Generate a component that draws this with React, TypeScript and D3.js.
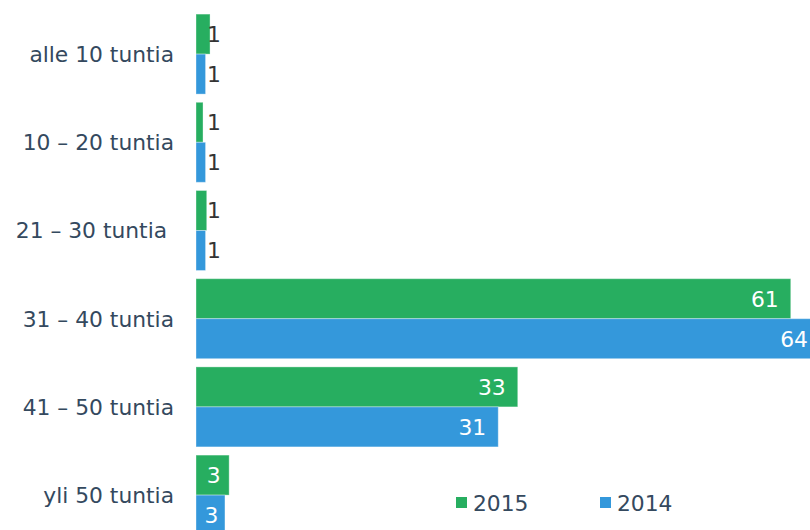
import React from "react";
import * as d3 from "d3";

const categories = [
  "alle 10 tuntia",
  "10 – 20 tuntia",
  "21 – 30 tuntia ",
  "31 – 40 tuntia",
  "41 – 50 tuntia",
  "yli 50 tuntia",
];
const seriesNames = ["2015", "2014"];
const values2015 = [1.44, 0.72, 1.1, 61, 33, 3.4];
const values2014 = [0.98, 0.98, 0.98, 64, 31, 2.97];
const colors = ["#27ae60", "#3498db"];

const W = 810;
const H = 530;
const FONT = "'DejaVu Sans', Verdana, sans-serif";
const FS = 21.8;

export default function App() {
  const series = [values2015, values2014];
  const x = d3.scaleLinear().domain([0, 64]).range([196, 820]);
  const y = d3
    .scaleBand<string>()
    .domain(categories)
    .range([10, 539.2])
    .paddingInner(0.093)
    .paddingOuter(0.0465);
  const sub = d3
    .scaleBand<string>()
    .domain(seriesNames)
    .range([0, y.bandwidth()]);
  const fmt = (v: number) => String(Math.round(v));

  return (
    <svg
      width={W}
      height={H}
      style={{ position: "absolute", left: 0, top: 0, display: "block" }}
      fontFamily={FONT}
    >
      <rect width={W} height={H} fill="#fff" />
      {categories.map((c, i) => (
        <g key={c}>
          {series.map((vals, s) => {
            const v = vals[i];
            const y0 = (y(c) as number) + (sub(seriesNames[s]) as number);
            const bh = sub.bandwidth();
            const x0 = x(0);
            const x1 = x(v);
            const bw = x1 - x0;
            const label = fmt(v);
            const tw = label.length * 0.636 * FS;
            let tx: number;
            let anchor: string;
            let fill: string;
            if (bw > tw + 6) {
              fill = "#fff";
              if (bw > tw + 24) {
                tx = x1 - 12;
                anchor = "end";
              } else {
                tx = x0 + bw / 2 + 1;
                anchor = "middle";
              }
            } else {
              fill = "#333";
              tx = x0 + 11;
              anchor = "start";
            }
            return (
              <g key={s}>
                <rect
                  x={x0}
                  y={y0}
                  width={bw}
                  height={bh}
                  fill={colors[s]}
                  stroke="rgba(255,255,255,0.35)"
                  strokeWidth={1}
                />
                <text
                  x={tx}
                  y={y0 + bh / 2}
                  dy="0.36em"
                  textAnchor={anchor}
                  fill={fill}
                  fontSize={FS}
                >
                  {label}
                </text>
              </g>
            );
          })}
          <text
            x={174}
            y={(y(c) as number) + y.bandwidth() / 2}
            dy="0.36em"
            textAnchor="end"
            fill="#34495e"
            fontSize={FS}
            style={{ whiteSpace: "pre" }}
            xmlSpace="preserve"
          >
            {c}
          </text>
        </g>
      ))}
      {seriesNames.map((n, s) => {
        const lx = 456 + s * 144;
        return (
          <g key={n}>
            <rect x={lx} y={497} width={11} height={11} fill={colors[s]} />
            <text x={lx + 17} y={511} fill="#34495e" fontSize={FS}>
              {n}
            </text>
          </g>
        );
      })}
    </svg>
  );
}
